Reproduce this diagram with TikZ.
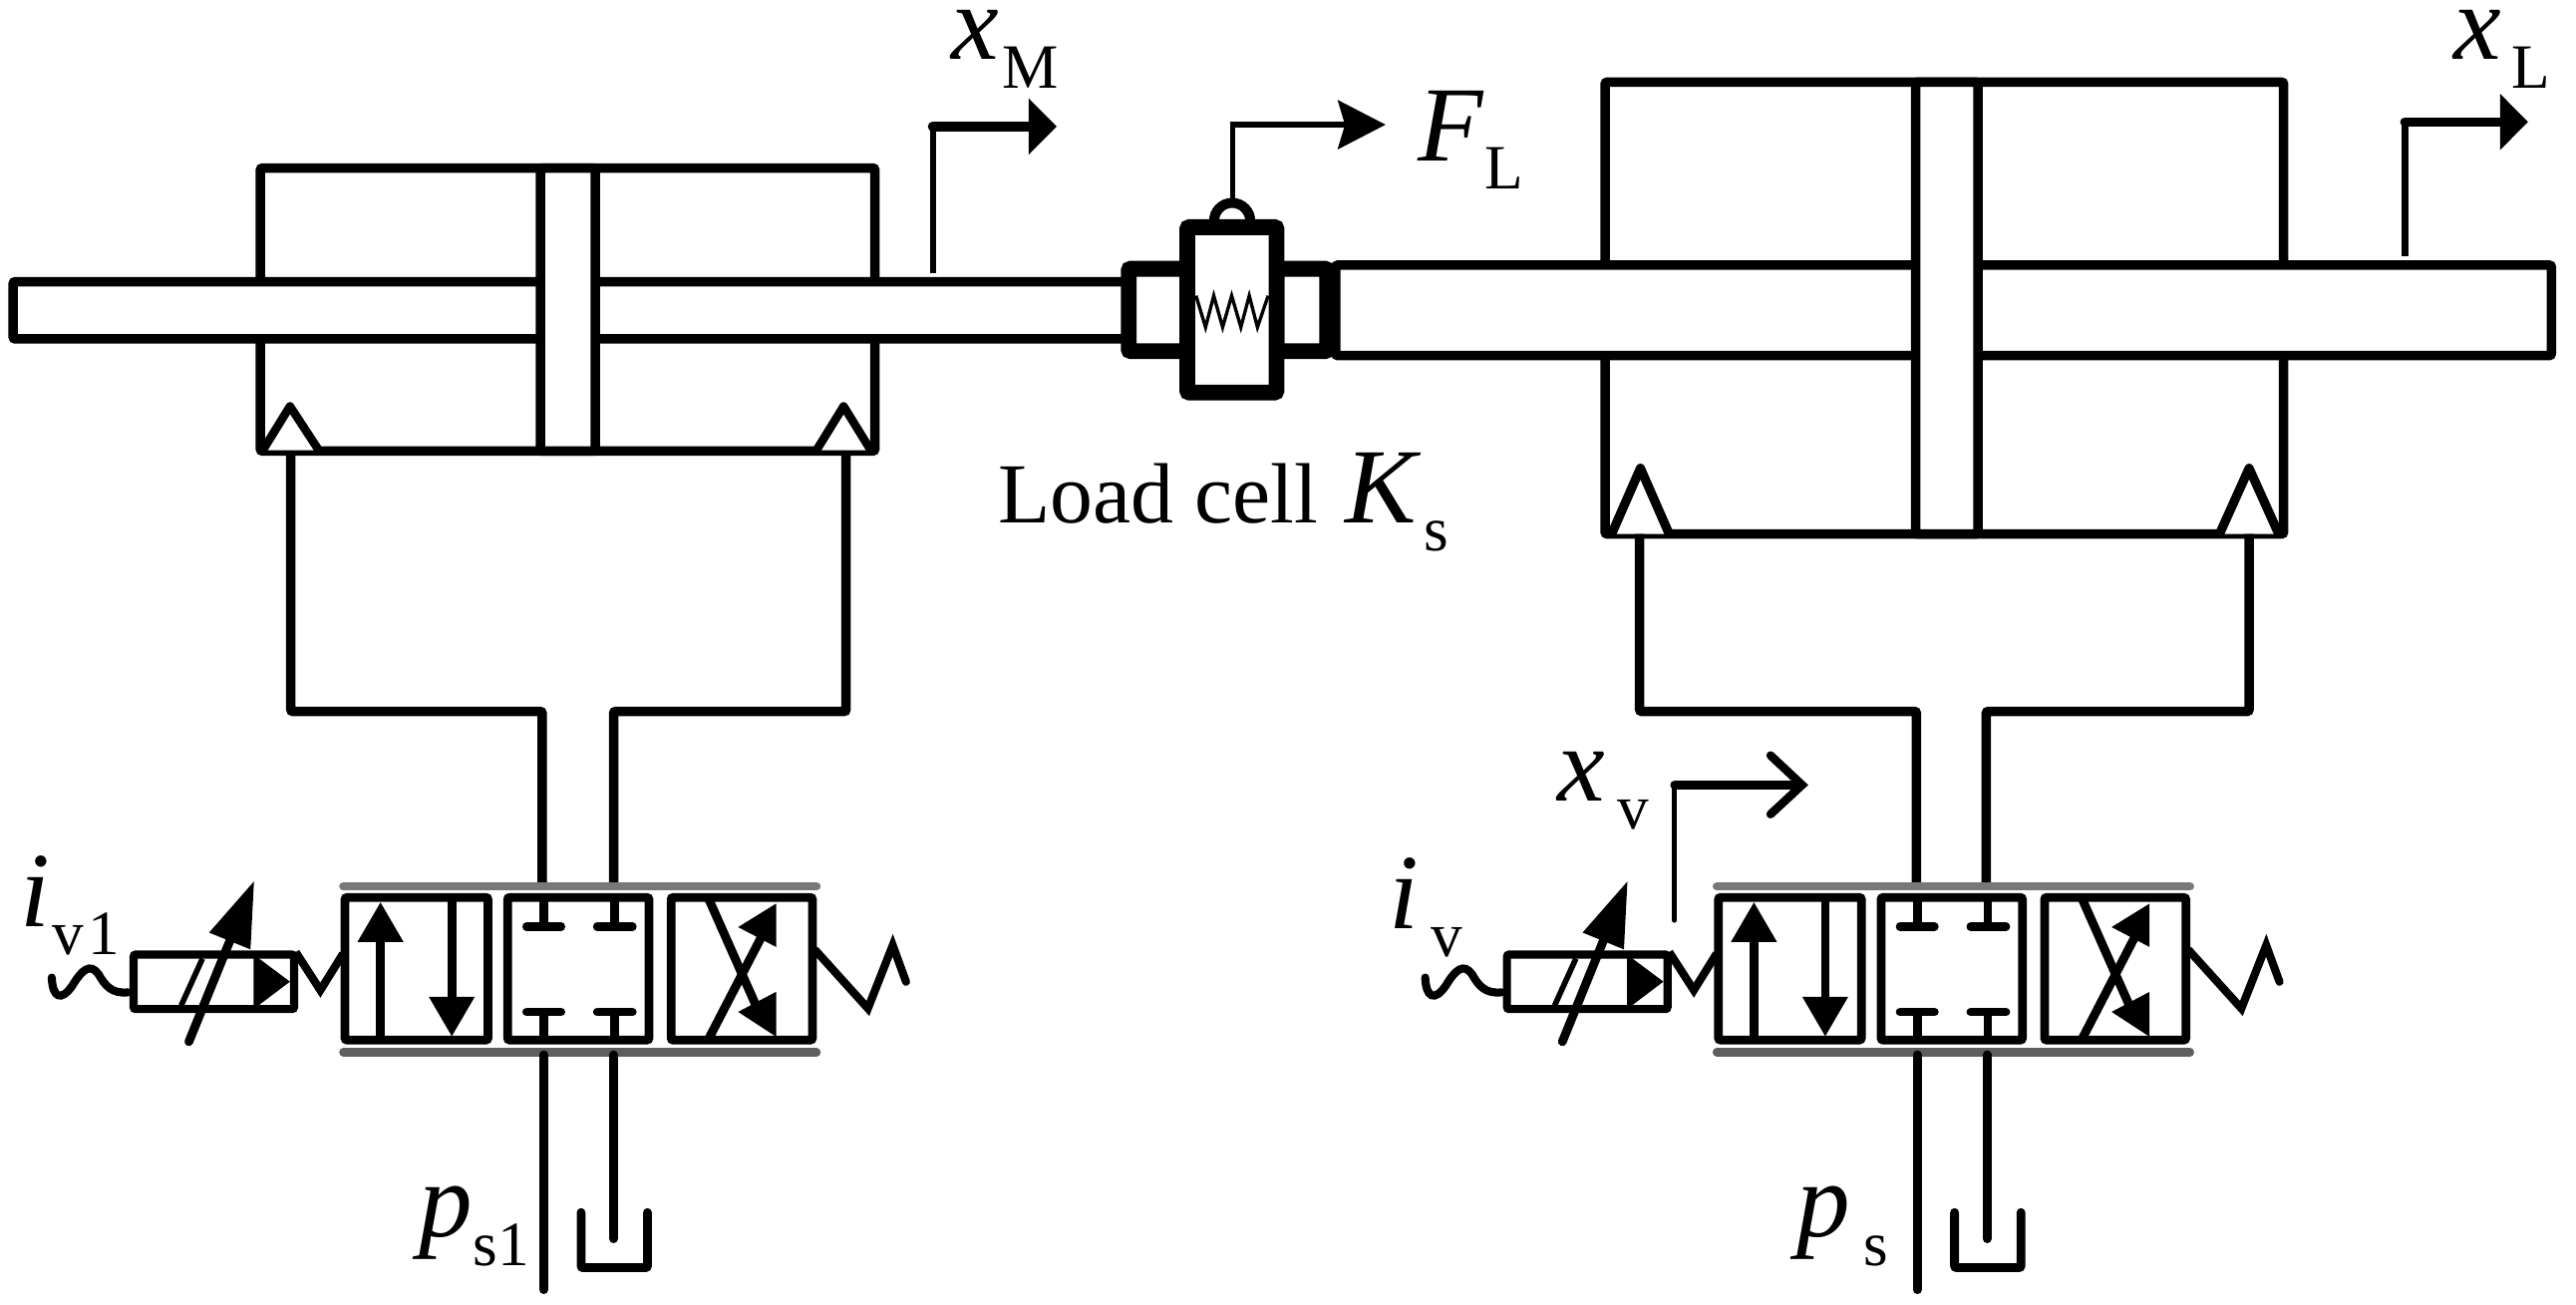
\documentclass[tikz,border=0pt]{standalone}
\usepackage{fontspec}
\setmainfont{Liberation Serif}
\usepackage{tikz}
\usetikzlibrary{arrows.meta}

\tikzset{
  body/.style={line width=2.7pt, fill=white, rounded corners=0.6pt},
  pipe/.style={line width=2.5pt},
  cell/.style={line width=2.5pt, rounded corners=0.6pt},
  stub/.style={line width=2.4pt, line cap=round},
  thinline/.style={line width=1.6pt},
  cushion/.style={line width=2.4pt, fill=white, line join=round},
  lab/.style={inner sep=0pt, anchor=base west, font=\fontsize{30.5}{30.5}\selectfont},
}
% symbol with a subscript set well apart from it
\newcommand{\symsub}[3][0pt]{\textit{#2}\hspace{#1}\raisebox{-8pt}{\fontsize{18}{18}\selectfont #3}}

% servo valve with its solenoid, springs, supply line and tank
\newcommand{\servovalve}[1]{
  \begin{scope}[shift={(#1,0)}]
    \draw[stub, draw=black!53] (209,539.6) -- (497,539.6);
    \draw[stub, draw=black!63] (209,640.5) -- (497,640.5);
    % three cells
    \draw[cell] (210,546.3) rectangle (297,633);
    \draw[cell] (309,546.3) rectangle (395,633);
    \draw[cell] (408.5,546.3) rectangle (494.5,633);
    \draw[pipe, -{Triangle[length=11.4pt,width=12.4pt]}] (231.6,633) -- (231.6,549);
    \draw[pipe, -{Triangle[length=11.4pt,width=12.4pt]}] (275,546.3) -- (275,631);
    \draw[pipe] (331,546.3) -- (331,564);
    \draw[pipe] (374,546.3) -- (374,564);
    \draw[stub] (320.5,564) -- (341.5,564);
    \draw[stub] (363.5,564) -- (385,564);
    \draw[pipe] (331,633) -- (331,616);
    \draw[pipe] (374,633) -- (374,616);
    \draw[stub] (320.5,616) -- (341.5,616);
    \draw[stub] (363.5,616) -- (385,616);
    \draw[pipe] (431,546.3) -- (459.6,610.8);
    \draw[pipe] (431,633) -- (465,567.3);
    \fill (472.4,550) -- (449.3,564.3) -- (472.4,576.4) -- cycle;
    \fill (472.4,603.7) -- (449.3,615.9) -- (472.4,631) -- cycle;
    % solenoid
    \draw[body, line width=2.3pt] (81.3,581) rectangle (179,614.2);
    \fill (154.4,581) -- (176.5,597.5) -- (154.4,614.2) -- cycle;
    \draw[thinline] (110.3,612) -- (123.2,583.5);
    \draw[pipe, line cap=round, -{Triangle[length=18.6pt,width=12pt]}] (115,634) -- (154.8,536);
    \draw[line width=2.3pt, line cap=round] (31.5,595) .. controls (32,607) and (37,610) .. (44,600)
      .. controls (50,590) and (55,586) .. (60,593) .. controls (64,600) and (68,605) .. (78,604);
    % springs
    \draw[line width=2.3pt] (180,579.5) -- (195,602.7) -- (208.8,580.5);
    \draw[line width=2.3pt, line cap=round] (496.3,578.4) -- (528.3,613.8) -- (543.4,575.4) -- (551.5,597.6);
    % supply and tank
    \draw[pipe, line cap=round] (331,642) -- (331,785);
    \draw[pipe, line cap=round] (373.5,642) -- (373.5,754);
    \draw[pipe, line cap=round, rounded corners=0.6pt] (353.7,738) -- (353.7,771.6) -- (394.1,771.6) -- (394.1,738);
  \end{scope}
}

\begin{document}
\begin{tikzpicture}[x=0.1648mm, y=-0.1648mm]
  \useasboundingbox (0,0) rectangle (1568,794.3);

  % left cylinder
  \draw[body] (158.5,102.3) rectangle (532.5,274.5);
  \draw[body, fill=white] (8,171.5) rectangle (690,206.3);
  \draw[cushion] (160,274) -- (176.5,247.3) -- (194,274);
  \draw[cushion] (497,274) -- (513.5,247.3) -- (530,274);
  \draw[body] (329,102.3) rectangle (362.3,274.5);
  \draw[body] (177,274.5) -- (177,433) -- (330,433) -- (330,539) [fill=none];
  \draw[body] (515,274.5) -- (515,433) -- (373.5,433) -- (373.5,539) [fill=none];
  \servovalve{0}

  % right cylinder
  \draw[body] (977,50) rectangle (1390,325);
  \draw[body, fill=white] (813,161.4) rectangle (1553,216.4);
  \draw[cushion, line width=2.6pt] (981,325) -- (998.5,285) -- (1016,325);
  \draw[cushion, line width=2.6pt] (1351,325) -- (1369,285) -- (1387,325);
  \draw[body] (1166,50) rectangle (1204,325);
  \draw[body] (998,325) -- (998,433) -- (1166.5,433) -- (1166.5,539) [fill=none];
  \draw[body] (1369,325) -- (1369,433) -- (1209,433) -- (1209,539) [fill=none];
  \servovalve{836}

  % load cell
  \draw[body, line width=4.5pt] (687,163.6) rectangle (723,213.7);
  \draw[body, line width=4.5pt] (777,163.6) rectangle (807.8,213.7);
  \draw[line width=2.85pt] (739,134.5) arc[start angle=180, end angle=360, radius=11];
  \draw[body, line width=4.5pt] (722.7,138.3) rectangle (777,238.9);
  \draw[line width=0.95pt] (728,180) -- (733.8,199.2) -- (738.8,180) -- (744.2,199.2) -- (749.7,180)
    -- (755.3,199.2) -- (760.4,180) -- (765.4,199.2) -- (771.9,180);
  \draw[thinline, -{Stealth[length=13.6pt,width=13.9pt,inset=2pt]}] (750.4,122) -- (750.4,75.9) -- (843.4,75.9);

  % displacement arrows
  \draw[thinline] (567.8,166.5) -- (567.8,77);
  \draw[line width=2.85pt, line cap=round, -{Triangle[length=8pt,width=15.6pt]}] (567.8,77) -- (643.2,77);
  \draw[line width=1.9pt] (1463.8,156) -- (1463.8,74.2);
  \draw[line width=2.7pt, line cap=round, -{Triangle[length=8pt,width=15.6pt]}] (1463.8,74.2) -- (1538.8,74.2);
  \draw[thinline, line cap=round] (1019.2,560) -- (1019.2,478);
  \draw[stub] (1019.2,477.8) -- (1096,477.8);
  \draw[stub] (1077.7,459.8) -- (1096.9,477.8) -- (1077.7,495.6);

  % labels
  \node[lab] (xM) at (579,36.4) {\symsub[1pt]{x}{M}};
  \node[lab] (xL) at (1493,36.4) {\symsub[3pt]{x}{L}};
  \node[lab] (FL) at (863,98) {\symsub{F}{L}};
  \node[lab] (LC) at (607,318) {\fontsize{24.4}{24.4}\selectfont Load cell\fontsize{30.5}{30.5}\selectfont\ \symsub[1pt]{K}{\fontsize{18}{18}\selectfont s}};
  \node[lab] (xv) at (948,487.7) {\symsub[3.3pt]{x}{v}};
  \node[lab] (iv) at (845,565) {\symsub[3.5pt]{i}{v}};
  \node[lab] (iv1) at (12,564) {\symsub[0.5pt]{i}{v\kern1.5pt 1}};
  \node[lab] (ps) at (1093.6,753) {\symsub[3.7pt]{p}{s}};
  \node[lab] (ps1) at (255,753) {\symsub{p}{s1}};
\end{tikzpicture}
\end{document}
